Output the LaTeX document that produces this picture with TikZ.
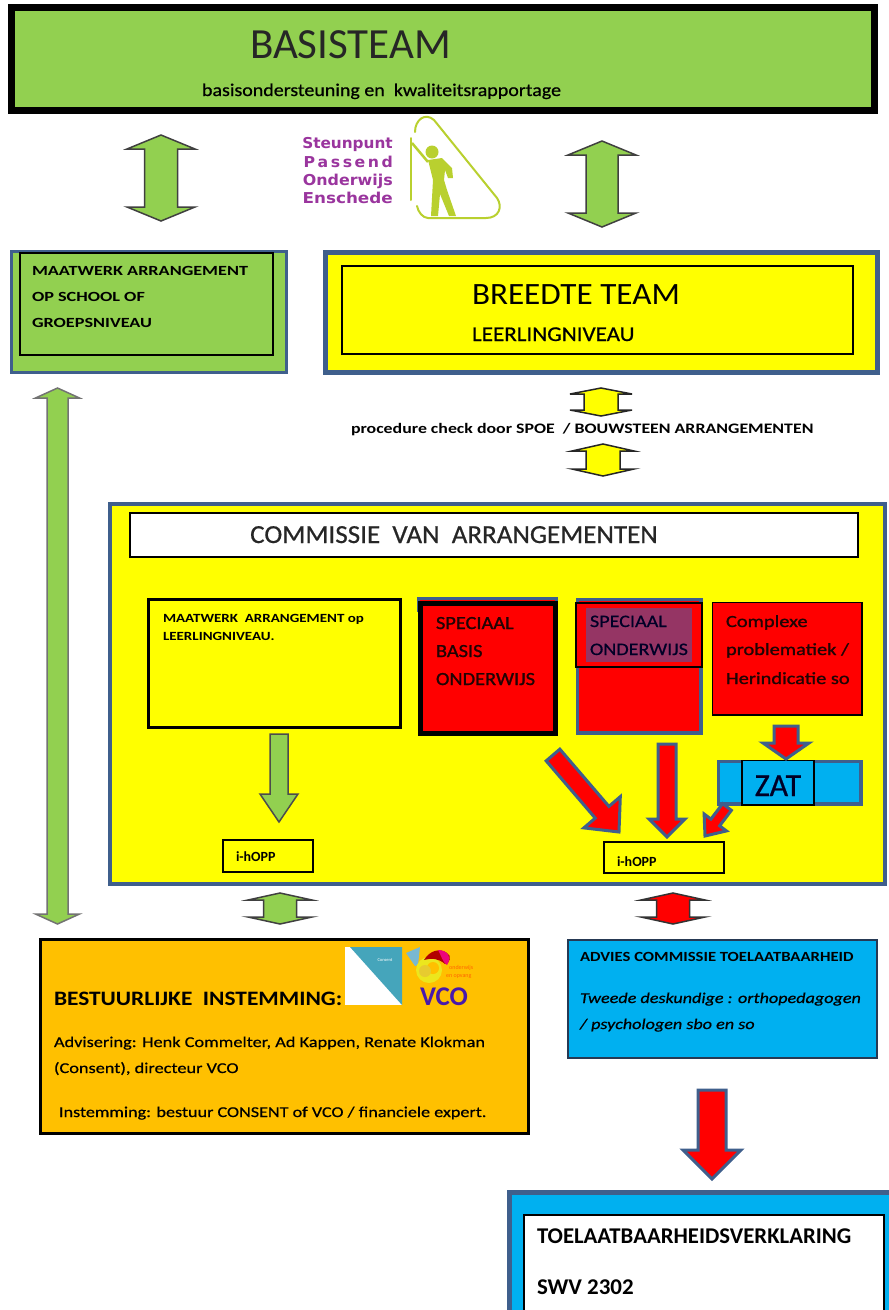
\documentclass[tikz,border=0pt]{standalone}
\usepackage{fontspec}
\setmainfont{Carlito}
\newfontfamily\logofont{DejaVu Sans}
\definecolor{grn}{HTML}{92D050}
\definecolor{ylw}{HTML}{FFFF00}
\definecolor{blu}{HTML}{00B0F0}
\definecolor{org}{HTML}{FFC000}
\definecolor{edge}{HTML}{3F5F8C}
\definecolor{lime}{HTML}{B9D02F}
\definecolor{purp}{HTML}{9A359E}
\definecolor{plum}{HTML}{953564}
\definecolor{teal2}{HTML}{45A5BB}
\definecolor{dred}{HTML}{200404}
\newcommand{\fnt}[2]{\fontsize{#1}{#1}\selectfont\addfontfeature{FakeStretch=#2}}
\newcommand{\fnb}[2]{\fontsize{#1}{#1}\selectfont\addfontfeature{FakeStretch=#2,FakeBold=0.6}}
\newcommand{\fnx}[2]{\fontsize{#1}{#1}\selectfont\addfontfeature{FakeStretch=#2,FakeBold=1.2}}
\tikzset{
 plainbox/.style={draw,inner sep=0pt,outer sep=0pt,line width=1.5pt},
 txt/.style={anchor=base west,inner sep=0pt,outer sep=0pt,text=black},
 bold/.style={txt,font=\bfseries},
 garrow/.style={draw=black!75,fill=grn,line width=1.5pt,line join=miter},
 larrow/.style={draw=black!55,fill=grn,line width=1.5pt},
 yarrow/.style={draw=black!85,fill=ylw,line width=1.5pt},
 rarrow/.style={draw=edge,fill=red,line width=3pt,line join=miter},
 r2arrow/.style={draw=black!80,fill=red,line width=1.5pt},
 lineart/.style={draw=lime,line width=2pt,line cap=round},
}
% box: style, name, x0,y0,x1,y1
\newcommand{\bxx}[6]{\node[plainbox,#1,minimum width=(#5-#3)*1pt,minimum height=(#6-#4)*1pt] (#2) at ({(#3+#5)/2},{(#4+#6)/2}) {};}
% vertical double block arrow: style,cx,y0,y1,half shaft,half head,head length
\newcommand{\vdbl}[7]{\draw[#1] (#2,#3) -- (#2+#6,#3+#7) -- (#2+#5,#3+#7) -- (#2+#5,#4-#7) -- (#2+#6,#4-#7) -- (#2,#4) -- (#2-#6,#4-#7) -- (#2-#5,#4-#7) -- (#2-#5,#3+#7) -- (#2-#6,#3+#7) -- cycle;}
% single block arrow: style,x0,y0,x1,y1,half shaft,half head,head length
\newcommand{\sarr}[8]{%
 \pgfmathsetmacro\Lv{veclen(#4-#2,#5-#3)}%
 \pgfmathsetmacro\ux{(#4-#2)/\Lv}\pgfmathsetmacro\uy{(#5-#3)/\Lv}%
 \pgfmathsetmacro\bax{#4-#8*\ux}\pgfmathsetmacro\bay{#5-#8*\uy}%
 \draw[#1] (#2-#6*\uy,#3+#6*\ux) -- (\bax-#6*\uy,\bay+#6*\ux) -- (\bax-#7*\uy,\bay+#7*\ux) -- (#4,#5) -- (\bax+#7*\uy,\bay-#7*\ux) -- (\bax+#6*\uy,\bay-#6*\ux) -- (#2+#6*\uy,#3-#6*\ux) -- cycle;}
\begin{document}
\begin{tikzpicture}[x=1pt,y=-1pt]
\useasboundingbox (0,0) rectangle (889,1310);
\fill[white] (0,0) rectangle (889,1310);
\clip (0,0) rectangle (889,1310);
% BASISTEAM
\bxx{draw=black,fill=grn,line width=7pt}{basis}{11.5}{7.5}{874.5}{110}
\node[txt,text=black!85,font=\fnt{43}{1}] (basist) at (250,58) {BASISTEAM};
\node[txt,font=\fnb{18}{1.11}] (basisub) at (202,96) {basisondersteuning en\ \ kwaliteitsrapportage};
% top arrows
\vdbl{garrow}{161}{135}{221}{16.5}{34}{14}
\vdbl{garrow}{602}{141}{227}{16}{34}{14}
% logo
\node[anchor=base east,inner sep=0pt,text=purp,font=\logofont\bfseries\fnt{15}{1.02}] (l1) at (393,148) {Steunpunt};
\node[anchor=base east,inner sep=0pt,text=purp,font=\logofont\bfseries\fnt{15}{1.05}] (l2) at (393,167) {P\,a\,s\,s\,e\,n\,d};
\node[anchor=base east,inner sep=0pt,text=purp,font=\logofont\bfseries\fnt{15}{1.06}] (l3) at (393,185) {Onderwijs};
\node[anchor=base east,inner sep=0pt,text=purp,font=\logofont\bfseries\fnt{15}{1.12}] (l4) at (393,203) {Enschede};
\draw[lineart] (411,138) -- (411,200);
\draw[lineart] (415,132) .. controls (415,120) and (425,112) .. (434,120) -- (497,198) .. controls (503,207) and (499,218) .. (486,218) -- (428,218) .. controls (423,218) and (418,212) .. (417,206);
\fill[lime] (432,152) circle (6.5);
\draw[lime,line width=2.5pt] (412,143) -- (428,162);
\fill[lime] (428,160) -- (442,158) -- (452,168) -- (453,178) -- (448,178) -- (445,170) -- (444,180) -- (447,190) -- (456,216) -- (449,216) -- (440,194) -- (438,216) -- (431,216) -- (433,180) -- cycle;
% Maatwerk top
\bxx{draw=edge,fill=grn,line width=3pt}{maat}{11.5}{251.5}{286}{372}
\bxx{draw=black,line width=2pt}{maati}{19.5}{253}{273}{355}
\node[bold,font=\bfseries\fnt{14}{1.3}] (m1) at (32,275) {MAATWERK ARRANGEMENT};
\node[bold,font=\bfseries\fnt{14}{1.3}] (m2) at (32,301) {OP SCHOOL OF};
\node[bold,font=\bfseries\fnt{14}{1.3}] (m3) at (32,327) {GROEPSNIVEAU};
% Breedte
\bxx{draw=edge,fill=ylw,line width=5pt}{breed}{325.5}{252.5}{877}{372}
\bxx{draw=black,line width=2pt}{breedi}{342}{266}{853}{354}
\node[txt,font=\fnt{31}{1.07}] (b1) at (472,304) {BREEDTE TEAM};
\node[txt,font=\fnb{21}{1.1}] (b2) at (472,341) {LEERLINGNIVEAU};
% small yellow arrows and label
\vdbl{yarrow}{601}{388}{416}{17}{31}{6}
\vdbl{yarrow}{603}{444}{476}{17}{31}{7}
\node[bold,font=\bfseries\fnt{14.5}{1.23}] (proc) at (351,433) {procedure check door SPOE\ \ / BOUWSTEEN ARRANGEMENTEN};
% tall arrow
\vdbl{larrow}{57.5}{388}{924}{10.5}{22}{10}
% Commissie
\bxx{draw=edge,fill=ylw,line width=3.5pt}{comm}{110}{504}{885}{884}
\bxx{fill=white,draw=black,line width=1.5pt}{commt}{130}{513}{858}{557}
\node[anchor=base,inner sep=0pt,text=black!85,font=\fnb{26}{1.04}] (ct) at (454,543) {COMMISSIE\ \ VAN\ \ ARRANGEMENTEN};
% Maatwerk leerling
\bxx{draw=black,fill=ylw,line width=3pt}{ml}{148.5}{599.5}{400}{727}
\node[bold,font=\bfseries\fnt{12.5}{1.2}] (ml1) at (163,622) {MAATWERK\ \ ARRANGEMENT op};
\node[bold,font=\bfseries\fnt{12.5}{1.2}] (ml2) at (163,640) {LEERLINGNIVEAU.};
% SBO
\bxx{draw=edge,fill=red,line width=3pt}{sboo}{418.5}{598.5}{556.5}{610}
\bxx{draw=black,fill=red,line width=5pt}{sbo}{420.5}{603}{555}{733}
\node[txt,text=dred,font=\fnx{18.5}{1.1}] (s1) at (436,629) {SPECIAAL};
\node[txt,text=dred,font=\fnx{18.5}{1.1}] (s2) at (436,657) {BASIS};
\node[txt,text=dred,font=\fnx{18.5}{1.1}] (s3) at (436,685) {ONDERWIJS};
% SO
\bxx{draw=edge,fill=red,line width=3.5pt}{so}{577.5}{599.5}{701}{733}
\bxx{draw=black,fill=red,line width=1.5pt}{sot}{576}{603}{702}{667}
\bxx{draw=none,fill=plum}{sop}{586}{608}{692}{662}
\node[txt,text=black!85!blue,font=\fnb{17.5}{1.15}] (so1) at (590,627) {SPECIAAL};
\node[txt,text=black!85!blue,font=\fnb{17.5}{1.15}] (so2) at (590,655) {ONDERWIJS};
% Complexe
\bxx{draw=black,fill=red,line width=1.5pt}{cx}{712.5}{602.5}{862}{715}
\node[txt,text=dred,font=\fnx{17}{1.2}] (c1) at (726,627) {Complexe};
\node[txt,text=dred,font=\fnx{17}{1.2}] (c2) at (726,655) {problematiek /};
\node[txt,text=dred,font=\fnx{17}{1.2}] (c3) at (726,684) {Herindicatie so};
% ZAT
\bxx{draw=edge,fill=blu,line width=3.5pt}{zatb}{718.5}{761.5}{861}{804}
\bxx{draw=black,fill=blu,line width=1.5pt}{zat}{742}{760.5}{814}{805}
\node[anchor=base,inner sep=0pt,text=black!85!blue,font=\fnb{32}{1}] (zt) at (778,796) {ZAT};
% i-hOPP
\bxx{draw=black,fill=ylw,line width=1.5pt}{ih1}{223}{840}{313}{872}
\node[bold,font=\bfseries\fnt{14}{1}] (it1) at (236,861) {i-hOPP};
\bxx{draw=black,fill=ylw,line width=1.5pt}{ih2}{604}{842}{724}{873}
\node[bold,font=\bfseries\fnt{14}{1}] (it2) at (617,866) {i-hOPP};
% arrows in Commissie
\sarr{draw=black!70,fill=grn,line width=1.5pt}{279}{734}{279}{822}{9}{19}{28}
\sarr{rarrow}{553}{755}{619}{832}{9}{24}{26}
\sarr{rarrow}{667}{744}{667}{837}{9}{18}{18}
\sarr{rarrow}{786}{726}{786}{759}{12}{23}{16}
\sarr{rarrow}{727}{807}{705}{836}{5.5}{14}{17}
% lower double arrows
\vdbl{garrow}{280}{893}{924}{16.5}{32}{7}
\vdbl{r2arrow}{673}{893}{924}{16.5}{32}{7}
% Bestuurlijke
\bxx{draw=black,fill=org,line width=3pt}{best}{40.5}{939.5}{528}{1133}
\node[bold,font=\bfseries\fnt{20.5}{1.14}] (bt) at (54,1005) {BESTUURLIJKE\ \ INSTEMMING:};
\node[txt,font=\fnb{15}{1.22}] (bt1) at (54,1047) {Advisering: Henk Commelter, Ad Kappen, Renate Klokman};
\node[txt,font=\fnb{15}{1.22}] (bt2) at (54,1073) {(Consent), directeur VCO};
\node[txt,font=\fnb{15}{1.21}] (bt3) at (59,1117) {Instemming: bestuur CONSENT of VCO / financiele expert.};
% logos
\fill[white] (345,947) rectangle (402,1005);
\fill[teal2] (350,947) -- (402,947) -- (402,1005) -- cycle;
\node[anchor=center,inner sep=0pt,text=white,font=\fontsize{4.5}{4.5}\selectfont] (cons) at (385,960) {Consent};
\fill[blue!30!cyan!50!gray!70] (406,953) -- (420,947) -- (418,965) -- (415,966) -- cycle;
\fill[yellow!70!lime] (429,970) circle (13);
\fill[org] (433,968) circle (6);
\fill[yellow!60!brown] (425,971) circle (6);
\fill[red!70!black] (424,960) .. controls (430,950) and (440,948) .. (447,953) .. controls (452,955) and (450,964) .. (445,964) .. controls (438,958) and (432,958) .. (424,960) -- cycle;
\fill[magenta!85!red] (438,950) .. controls (448,950) and (452,958) .. (447,965) .. controls (443,963) and (441,955) .. (438,950) -- cycle;
\node[anchor=west,inner sep=0pt,text=orange!80!red,font=\fontsize{6}{6}\selectfont] (vco1) at (449,968) {onderwijs};
\node[anchor=west,inner sep=0pt,text=orange!80!red,font=\fontsize{6}{6}\selectfont] (vco2) at (446,977) {en opvang};
\node[anchor=base,inner sep=0pt,text=purp!55!blue!85!black,font=\bfseries\fontsize{27}{27}\selectfont] (vco) at (444,1005) {VCO};
% Advies
\bxx{draw=edge!60!black,fill=blu,line width=2pt}{adv}{567.5}{939.5}{877}{1058}
\node[bold,font=\bfseries\fnt{14}{1.19}] (a1) at (580,961) {ADVIES COMMISSIE TOELAATBAARHEID};
\node[txt,font=\itshape\fnb{15}{1.21}] (a2) at (580,1003) {Tweede deskundige : orthopedagogen};
\node[txt,font=\itshape\fnb{15}{1.21}] (a3) at (580,1029) {/ psychologen sbo en so};
\sarr{rarrow}{712}{1090}{712}{1179}{14}{29}{29}
% Toelaatbaarheid
\bxx{draw=edge,fill=blu,line width=5pt}{toel}{509}{1192}{900}{1330}
\bxx{draw=black,fill=white,line width=1.5pt}{toeli}{524}{1215}{884}{1320}
\node[bold,font=\bfseries\fnt{22.5}{1.01}] (t1) at (537,1243) {TOELAATBAARHEIDSVERKLARING};
\node[bold,font=\bfseries\fnt{22.5}{1.02}] (t2) at (537,1294) {SWV 2302};
\end{tikzpicture}
\end{document}
